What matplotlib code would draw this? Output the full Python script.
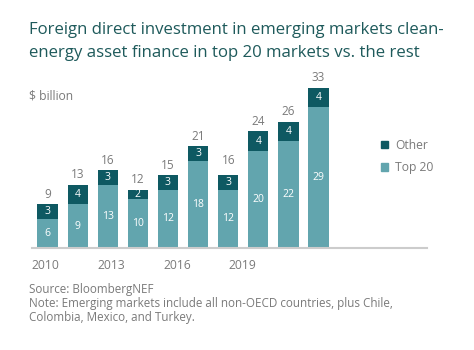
import matplotlib.pyplot as plt
from matplotlib.patches import Patch

years = ['2010', '2011', '2012', '2013', '2014', '2015', '2016', '2017', '2018', '2019']
top20 = [6, 9, 13, 10, 12, 18, 12, 20, 22, 29]
other = [3, 4, 3, 2, 3, 3, 3, 4, 4, 4]
totals = [9, 13, 16, 12, 15, 21, 16, 24, 26, 33]
tick_labels = ['2010', '2013', '2016', '2019']

c_top = '#62a5ae'
c_other = '#0e5962'
c_title = '#1e5a5b'
c_grey = '#7a7a7a'

plt.rcParams['font.family'] = ['Open Sans', 'DejaVu Sans']

fig = plt.figure(figsize=(4.74, 3.5), dpi=100)
ax = fig.add_axes([32/474, 102/350, 395/474, 168/350])

x = list(range(len(years)))
ax.bar(x, top20, width=0.67, color=c_top)
ax.bar(x, other, width=0.67, bottom=top20, color=c_other)

for i in x:
    ax.text(i, top20[i] / 2, str(top20[i]), ha='center', va='center', color='white', fontsize=7.5)
    ax.text(i, top20[i] + other[i] / 2, str(other[i]), ha='center', va='center', color='white', fontsize=7.5)
    ax.text(i, totals[i] + 0.7, str(totals[i]), ha='center', va='bottom', color=c_grey, fontsize=8.5)

ax.set_xlim(-0.515, 12.6)
ax.set_ylim(0, 34.6)
for s in ['top', 'right', 'left']:
    ax.spines[s].set_visible(False)
ax.spines['bottom'].set_color('#cccccc')
ax.spines['bottom'].set_linewidth(1.5)
ax.set_yticks([])
# year labels sit where the original put them
ax.set_xticks([-0.08, 2.11, 4.32, 6.48])
ax.set_xticklabels(tick_labels, color=c_grey, fontsize=8.7)
ax.tick_params(axis='x', length=0, pad=8)

handles = [Patch(color=c_other, label='Other'), Patch(color=c_top, label='Top 20')]
fig.legend(handles=handles, loc='upper left', bbox_to_anchor=(370/474, 1 - 128/350),
           frameon=False, fontsize=8.7, labelcolor=c_grey, handlelength=0.6, handleheight=0.6,
           handletextpad=0.6, labelspacing=0.75)

fig.text(29/474, 1 - 30/350, 'Foreign direct investment in emerging markets clean-',
         fontsize=12.1, color=c_title, va='center')
fig.text(29/474, 1 - 53/350, 'energy asset finance in top 20 markets vs. the rest',
         fontsize=12.1, color=c_title, va='center')
fig.text(29/474, 1 - 96/350, '$ billion', fontsize=8.7, color=c_grey, va='center')

fig.text(29/474, 1 - 290/350, 'Source: BloombergNEF', fontsize=8.4, color=c_grey, va='center')
fig.text(29/474, 1 - 304/350, 'Note: Emerging markets include all non-OECD countries, plus Chile,',
         fontsize=8.4, color=c_grey, va='center')
fig.text(29/474, 1 - 318/350, 'Colombia, Mexico, and Turkey.', fontsize=8.4, color=c_grey, va='center')

fig.savefig('out.png', dpi=100)
